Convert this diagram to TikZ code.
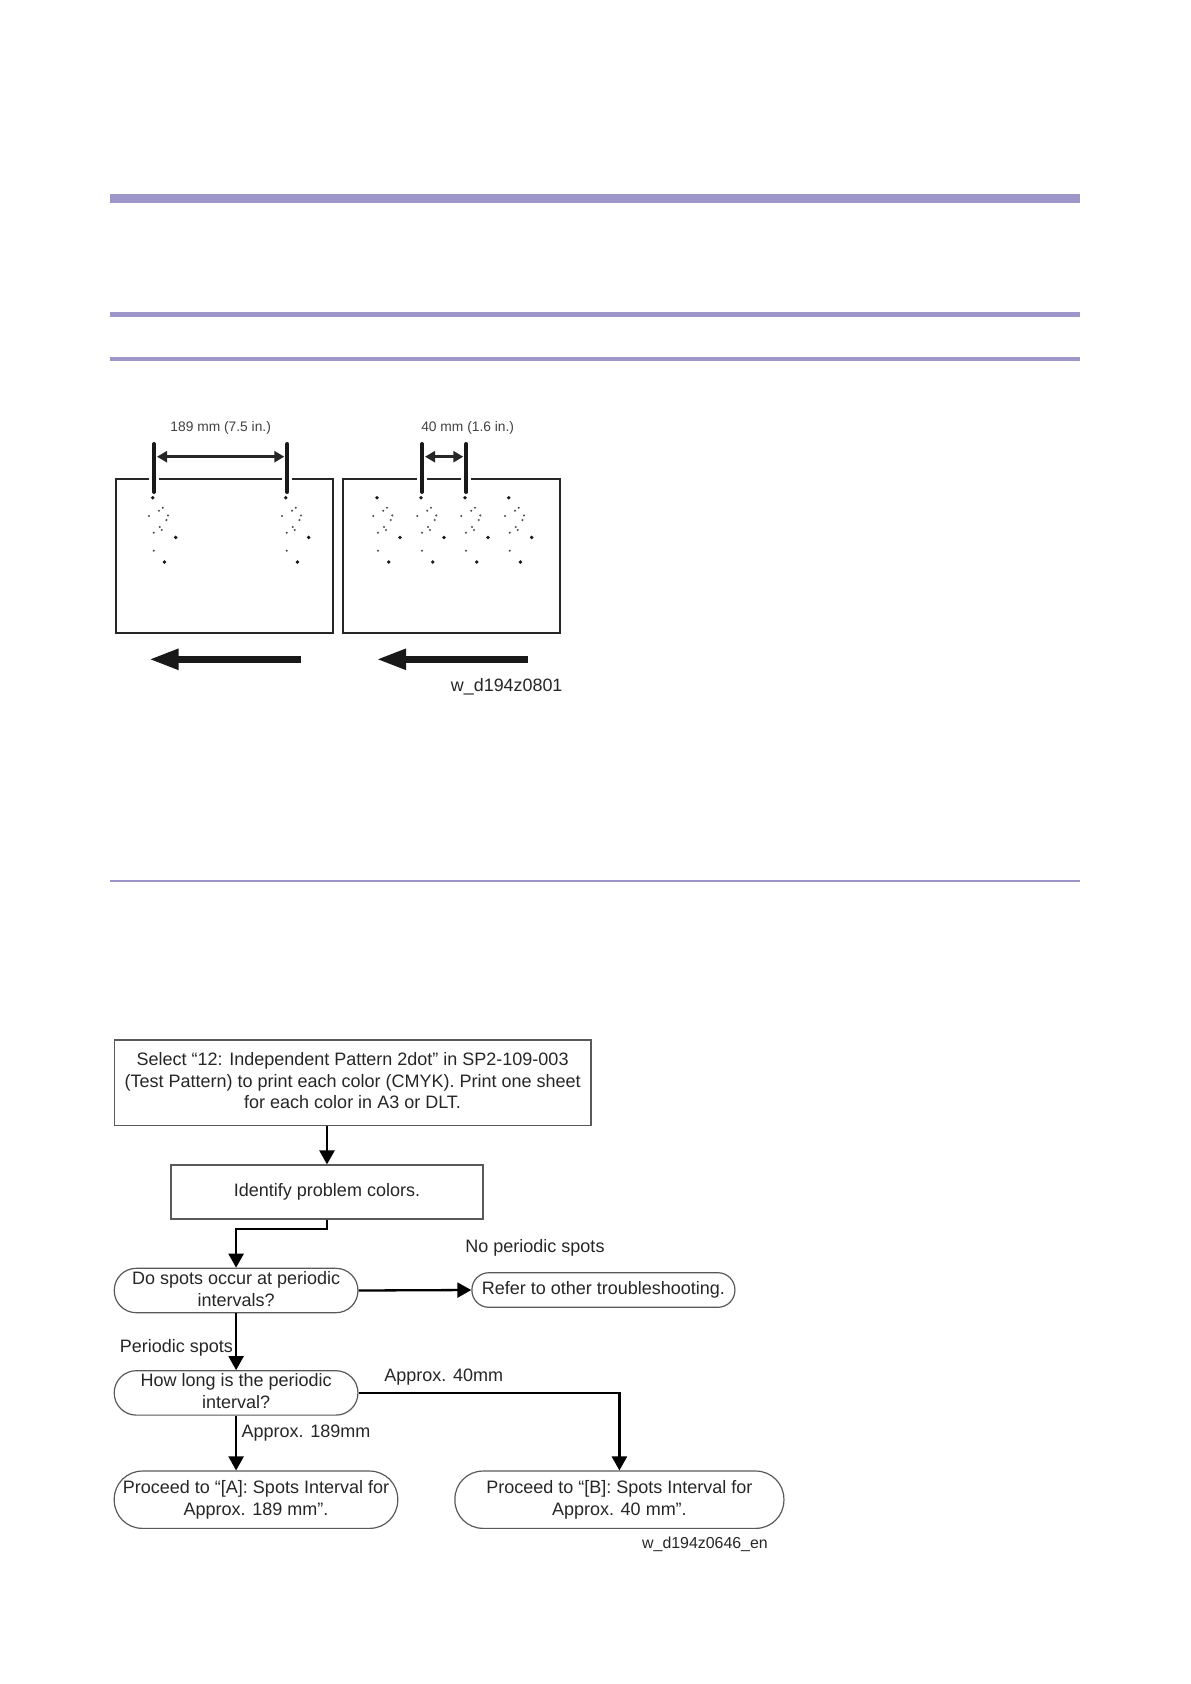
\documentclass[tikz,border=0pt]{standalone}
\usepackage{fontspec}
\setmainfont{Liberation Sans}
\usetikzlibrary{arrows.meta,calc,positioning}
\definecolor{band}{HTML}{9D96C8}
\definecolor{ink}{HTML}{262626}
\newcommand{\spotgroup}[1]{%
  \foreach \dx/\dy in {0/0,23/39.7,11.7/64.3}
    \fill[black!90] (#1+\dx,497.7+\dy) circle (1.9);
  \foreach \dx/\dy in {10/10,6.3/13,15.3/17.7,-3.7/18.3,13.7/22.3,7/29.3,9/32.3,1/35,1/53}
    \fill[black!70] (#1+\dx,497.7+\dy) circle (1.15);
}

\begin{document}
\begin{tikzpicture}[
    x=1pt,y=-1pt,
    every node/.style={font=\fontsize{18}{21.5}\selectfont,text=ink,align=center,inner sep=0pt},
    rulefill/.style={fill=band,draw=none},
    sheet/.style={draw=black!85,line width=1.8pt},
    tick/.style={line width=4pt,line cap=round,black!90},
    gap/.style={white,line width=10pt},
    span/.style={{Triangle[length=10pt,width=11pt]}-{Triangle[length=10pt,width=11pt]},line width=3pt,black!85},
    feed/.style={-{Triangle[length=30pt,width=19pt]},line width=7.5pt,black!90},
    small/.style={font=\fontsize{13.8}{16}\selectfont,text=black!75},
    tag/.style={font=\fontsize{17.9}{20}\selectfont},
    tagsmall/.style={font=\fontsize{15.9}{18}\selectfont},
    stepbox/.style={draw=black!65,line width=1.2pt,rectangle},
    pill/.style={stepbox,rounded corners=#1},
    flow/.style={-{Triangle[length=14pt,width=15pt]},line width=2.3pt,black}
]
\useasboundingbox (0,0) rectangle (1191,1684);

% header rules
\fill[rulefill] (110,194) rectangle (1080,202.7);
\fill[rulefill] (110,312) rectangle (1080,317);
\fill[rulefill] (110,357) rectangle (1080,361);
\fill[rulefill] (110,879.9) rectangle (1080,881.6);

% the two sheets with their spot patterns
\draw[sheet] (115.7,479.3) rectangle (332.7,632.7);
\draw[sheet] (343.3,479.3) rectangle (560,632.7);
\foreach \px in {152.7,285.7,377,421,465,508.7} {\spotgroup{\px}}

% interval marks
\foreach \name/\px in {la/154,lb/287.3,ra/422,rb/466.3} {
  \coordinate (\name) at (\px,456.7);
  \draw[gap] (\px,474) -- (\px,484);
  \draw[tick] (\px,444) -- (\px,492);
}
\draw[span] ($(la)+(3,0)$) -- ($(lb)+(-3,0)$);
\draw[span] ($(ra)+(3,0)$) -- ($(rb)+(-3,0)$);
\node[small] (lenA) at (220.7,428) {189 mm (7.5 in.)};
\node[small] (lenB) at (467.7,428) {40 mm (1.6 in.)};

% paper feed arrows
\draw[feed] (301,659.3) -- (148.5,659.3);
\draw[feed] (528.3,659.3) -- (376,659.3);
\node[tag] (figA) at (506.7,687) {w\_d194z0801};

% flow chart
\node[stepbox,minimum width=476.7pt,minimum height=85.3pt,text depth=4pt] (select) at (352.6,1082.6)
  {Select “12: Independent Pattern 2dot” in SP2-109-003\\(Test Pattern) to print each color (CMYK). Print one sheet\\for each color in A3 or DLT.};
\node[stepbox,minimum width=312pt,minimum height=54pt] (identify) at (327,1192) {Identify problem colors.};
\node[pill=22pt,minimum width=243.7pt,minimum height=44.4pt,text depth=3pt] (occur) at (236.1,1290.5) {Do spots occur at periodic\\intervals?};
\node[pill=17pt,minimum width=263pt,minimum height=34.6pt] (other) at (603.4,1290) {Refer to other troubleshooting.};
\node[pill=22pt,minimum width=243.7pt,minimum height=44.4pt,text depth=4pt] (howlong) at (236.1,1392.9) {How long is the periodic\\interval?};
\node[pill=28pt,minimum width=283.5pt,minimum height=57.3pt] (procA) at (256,1499.7) {Proceed to “[A]: Spots Interval for\\Approx. 189 mm”.};
\node[pill=28pt,minimum width=329pt,minimum height=57.3pt] (procB) at (619.4,1499.7) {Proceed to “[B]: Spots Interval for\\Approx. 40 mm”.};

\coordinate (bend) at (236.1,1229);
\draw[flow] (select.south -| identify.north) -- (identify.north);
\draw[flow] (identify.south) |- (bend) -- (occur.north);
\draw[flow] (occur.east) -- (other.west);
\draw[flow] (occur.south) -- (howlong.north);
\draw[flow] (howlong.south) -- (howlong.south |- procA.north);
\draw[flow] (howlong.east) -| (procB.north);

\node (noSpots) at (535,1248) {No periodic spots};
\node (yesSpots) at (176.4,1348) {Periodic spots};
\node (long40) at (443.7,1377) {Approx. 40mm};
\node (long189) at (306,1432.7) {Approx. 189mm};
\node[tagsmall] (figB) at (705,1544.5) {w\_d194z0646\_en};
\end{tikzpicture}
\end{document}
